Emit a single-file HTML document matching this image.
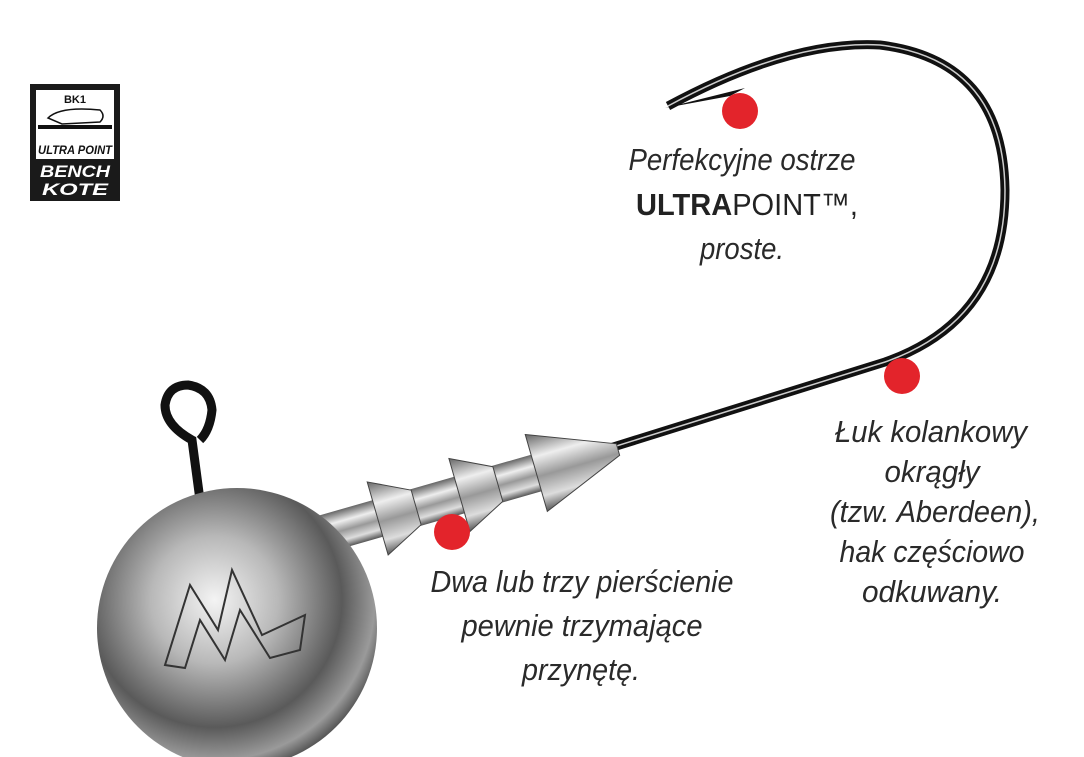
<!DOCTYPE html>
<html><head><meta charset="utf-8"><style>
html,body{margin:0;padding:0;background:#fff;}
svg{display:block}
text{font-family:"Liberation Sans",sans-serif;}
.t{font-style:italic;font-size:31px;fill:#2a2a2a;text-anchor:middle;}
</style></head><body>
<svg width="1084" height="757" viewBox="0 0 1084 757" xmlns="http://www.w3.org/2000/svg">
<defs>
<radialGradient id="ball" cx="0.42" cy="0.4" r="0.65">
<stop offset="0" stop-color="#f4f4f4"/><stop offset="0.35" stop-color="#b8b8b8"/><stop offset="0.7" stop-color="#5a5a5a"/><stop offset="0.88" stop-color="#9a9a9a"/><stop offset="1" stop-color="#3a3a3a"/>
</radialGradient>
<linearGradient id="shaft" x1="0" y1="0" x2="0" y2="1">
<stop offset="0" stop-color="#666"/><stop offset="0.3" stop-color="#eee"/><stop offset="0.55" stop-color="#999"/><stop offset="0.8" stop-color="#ddd"/><stop offset="1" stop-color="#555"/>
</linearGradient>
</defs>
<!-- logo -->
<rect x="30" y="84" width="90" height="117" fill="#1a1a1a"/>
<rect x="36" y="90" width="78" height="50" fill="#fff"/>
<text x="75" y="103" font-size="11" font-weight="bold" text-anchor="middle" fill="#111">BK1</text>
<path d="M38 125 L112 125 L112 129 L38 129Z" fill="#111"/>
<path d="M48 118 Q60 106 100 110 Q106 116 100 122 L62 124Z" fill="none" stroke="#111" stroke-width="1.5"/>
<rect x="36" y="140" width="78" height="19" fill="#fff"/>
<text x="75" y="154" font-size="12" font-style="italic" font-weight="bold" text-anchor="middle" fill="#111" textLength="74" lengthAdjust="spacingAndGlyphs">ULTRA POINT</text>
<text x="75" y="177" font-size="17" font-style="italic" font-weight="bold" text-anchor="middle" fill="#fff" textLength="70" lengthAdjust="spacingAndGlyphs">BENCH</text>
<text x="75" y="195" font-size="17" font-style="italic" font-weight="bold" text-anchor="middle" fill="#fff" textLength="66" lengthAdjust="spacingAndGlyphs">KOTE</text>
<!-- hook wire -->
<path d="M610 448 L885 362 Q1005 320 1005 190 Q1003 60 880 45 Q790 40 668 106" fill="none" stroke="#111" stroke-width="9"/>
<path d="M610 448 L885 362 Q1005 320 1005 190 Q1003 60 880 45 Q790 40 668 106" fill="none" stroke="#ccc" stroke-width="1.5"/>
<path d="M665 108 L745 88 L730 96Z" fill="#111"/>
<!-- eye -->
<path d="M200 500 L192 440 Q165 425 165 405 Q168 385 188 385 Q210 388 212 410 Q210 430 200 440" fill="none" stroke="#111" stroke-width="9"/>
<!-- shaft -->
<g transform="translate(320,535) rotate(-16)">
<rect x="0" y="-19" width="250" height="38" fill="url(#shaft)"/>
<path d="M60 -38 L100 -18 L100 18 L60 38Z" fill="url(#shaft)" stroke="#444" stroke-width="1"/>
<path d="M145 -38 L185 -18 L185 18 L145 38Z" fill="url(#shaft)" stroke="#444" stroke-width="1"/>
<path d="M225 -40 L310 -6 L310 6 L225 40Z" fill="url(#shaft)" stroke="#444" stroke-width="1"/>
</g>
<!-- ball -->
<circle cx="237" cy="628" r="140" fill="url(#ball)"/>
<path d="M165 665 L190 585 L218 630 L232 570 L262 635 L305 615 L300 650 L270 658 L240 610 L225 660 L200 620 L185 668Z" fill="none" stroke="#333" stroke-width="2"/>
<!-- dots -->
<circle cx="740" cy="111" r="18" fill="#e3242b"/>
<circle cx="902" cy="376" r="18" fill="#e3242b"/>
<circle cx="452" cy="532" r="18" fill="#e3242b"/>
<!-- text -->
<text class="t" x="742" y="170" textLength="227" lengthAdjust="spacingAndGlyphs">Perfekcyjne ostrze</text>
<text x="747" y="215" font-size="31" text-anchor="middle" fill="#222" textLength="222" lengthAdjust="spacingAndGlyphs"><tspan font-weight="bold">ULTRA</tspan>POINT™,</text>
<text class="t" x="742" y="259" textLength="84" lengthAdjust="spacingAndGlyphs">proste.</text>
<text class="t" x="931" y="442" textLength="192" lengthAdjust="spacingAndGlyphs">Łuk kolankowy</text>
<text class="t" x="932" y="482" textLength="95" lengthAdjust="spacingAndGlyphs">okrągły</text>
<text class="t" x="935" y="522" textLength="210" lengthAdjust="spacingAndGlyphs">(tzw. Aberdeen),</text>
<text class="t" x="932" y="562" textLength="185" lengthAdjust="spacingAndGlyphs">hak częściowo</text>
<text class="t" x="932" y="602" textLength="140" lengthAdjust="spacingAndGlyphs">odkuwany.</text>
<text class="t" x="582" y="592" textLength="303" lengthAdjust="spacingAndGlyphs">Dwa lub trzy pierścienie</text>
<text class="t" x="582" y="636" textLength="241" lengthAdjust="spacingAndGlyphs">pewnie trzymające</text>
<text class="t" x="581" y="680" textLength="118" lengthAdjust="spacingAndGlyphs">przynętę.</text>
</svg>
</body></html>
